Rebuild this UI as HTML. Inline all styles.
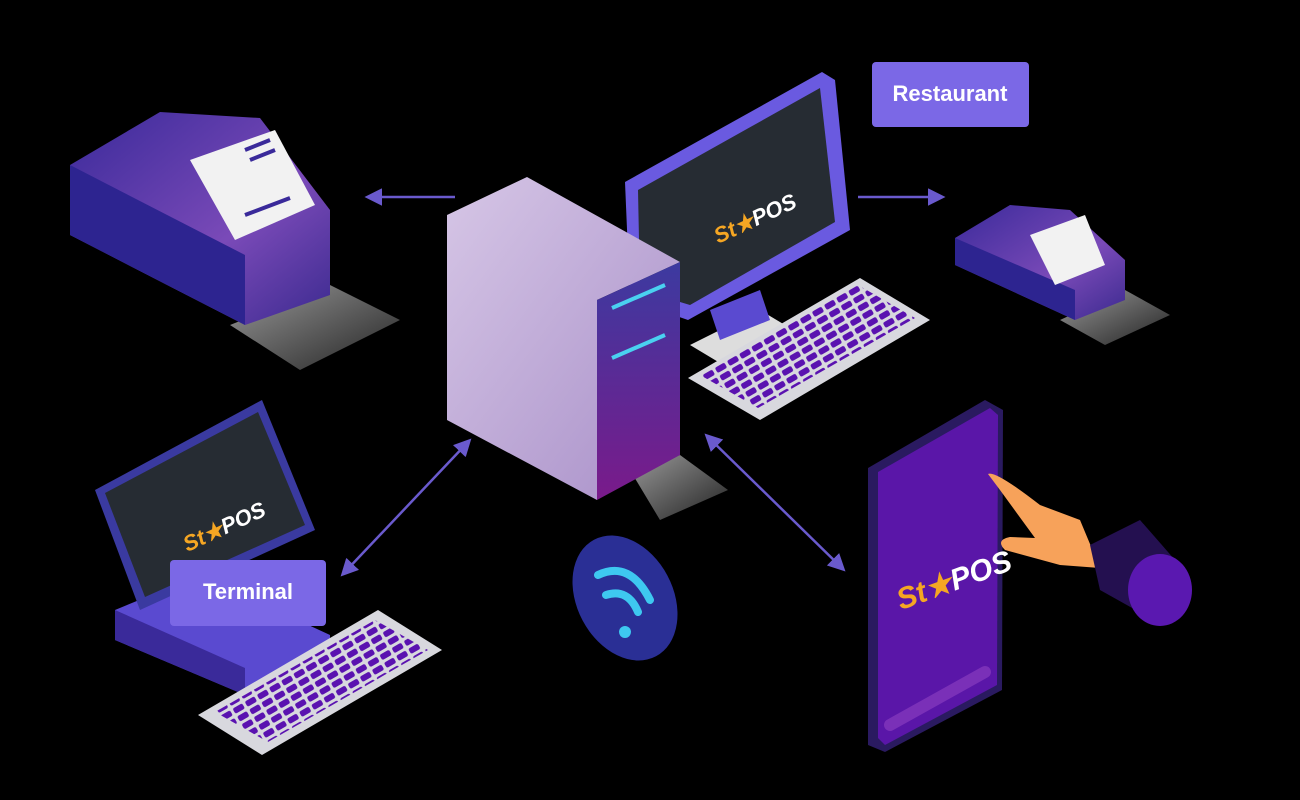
<!DOCTYPE html>
<html><head><meta charset="utf-8"><style>
html,body{margin:0;padding:0;background:#000;width:1300px;height:800px;overflow:hidden}
svg{display:block}
.lbl{font-family:"Liberation Sans",sans-serif;font-weight:bold;fill:#fff}
</style></head><body>
<svg width="1300" height="800" viewBox="0 0 1300 800" xmlns="http://www.w3.org/2000/svg">
<defs>
<linearGradient id="pr" x1="0" y1="0" x2="1" y2="1"><stop offset="0" stop-color="#3a2a9a"/><stop offset="0.6" stop-color="#7a4ab8"/><stop offset="1" stop-color="#3b2a8f"/></linearGradient>
<linearGradient id="sh" x1="0" y1="0" x2="1" y2="1"><stop offset="0" stop-color="#999"/><stop offset="1" stop-color="#222"/></linearGradient>
<linearGradient id="tw" x1="0" y1="0" x2="1" y2="1"><stop offset="0" stop-color="#d6c6e6"/><stop offset="1" stop-color="#a88fc8"/></linearGradient>
<linearGradient id="fp" x1="0" y1="0" x2="0" y2="1"><stop offset="0" stop-color="#3c3aa0"/><stop offset="1" stop-color="#7a1a8a"/></linearGradient>
<pattern id="keys" width="14" height="9" patternUnits="userSpaceOnUse" patternTransform="rotate(-30)"><rect x="1" y="1" width="11" height="6" rx="2" fill="#5a12b0"/></pattern>
<marker id="ah" viewBox="0 0 10 10" refX="8" refY="5" markerWidth="7" markerHeight="7" orient="auto-start-reverse"><path d="M0,0L10,5L0,10z" fill="#6a5acd"/></marker>
</defs>

<!-- left printer -->
<polygon points="230,325 330,285 400,320 300,370" fill="url(#sh)"/>
<polygon points="70,165 160,112 260,118 330,210 330,295 245,325 70,235" fill="url(#pr)"/>
<polygon points="70,165 245,255 245,325 70,235" fill="#2d2490"/>
<polygon points="190,160 275,130 315,205 235,240" fill="#f2f2f2"/>
<g stroke="#3a2a9a" stroke-width="4"><line x1="245" y1="150" x2="270" y2="140"/><line x1="250" y1="160" x2="275" y2="150"/><line x1="245" y1="215" x2="290" y2="198"/></g>

<!-- arrows -->
<line x1="455" y1="197" x2="368" y2="197" stroke="#6a5acd" stroke-width="2.5" marker-end="url(#ah)"/>
<line x1="858" y1="197" x2="942" y2="197" stroke="#6a5acd" stroke-width="2.5" marker-end="url(#ah)"/>
<line x1="343" y1="574" x2="469" y2="441" stroke="#6a5acd" stroke-width="2.5" marker-start="url(#ah)" marker-end="url(#ah)"/>
<line x1="707" y1="436" x2="843" y2="569" stroke="#6a5acd" stroke-width="2.5" marker-start="url(#ah)" marker-end="url(#ah)"/>

<!-- monitor -->
<polygon points="690,345 760,310 810,340 740,375" fill="#ddd"/>
<polygon points="710,310 760,290 770,320 720,340" fill="#5a4ad0"/>
<polygon points="625,182 822,72 835,80 850,230 688,320 630,300" fill="#6a5ae0"/>
<polygon points="638,190 820,88 835,222 690,305 640,290" fill="#262c33"/>
<text x="708" y="232" font-family="Liberation Sans,sans-serif" font-weight="bold" font-style="italic" font-size="22" fill="#f5a623" transform="rotate(-25 740 215)">St★<tspan fill="#fff">POS</tspan></text>

<!-- right keyboard -->
<polygon points="688,378 860,278 930,320 760,420" fill="#d8d8de"/>
<polygon points="700,375 858,285 915,318 758,408" fill="url(#keys)"/>

<!-- tower -->
<polygon points="630,470 680,455 728,490 660,520" fill="url(#sh)"/>
<polygon points="447,215 527,177 680,262 597,300 597,500 447,420" fill="url(#tw)"/>
<polygon points="597,300 680,262 680,455 597,500" fill="url(#fp)"/>
<line x1="612" y1="308" x2="665" y2="285" stroke="#4ad0f0" stroke-width="4"/>
<line x1="612" y1="358" x2="665" y2="335" stroke="#4ad0f0" stroke-width="4"/>

<!-- restaurant label -->
<rect x="872" y="62" width="157" height="65" rx="4" fill="#7b68e6"/>
<text x="950" y="101" class="lbl" font-size="22" text-anchor="middle">Restaurant</text>

<!-- right printer -->
<polygon points="1060,320 1125,290 1170,315 1105,345" fill="url(#sh)"/>
<polygon points="955,238 1010,205 1070,210 1125,260 1125,300 1075,320 955,265" fill="url(#pr)"/>
<polygon points="955,238 1075,290 1075,320 955,265" fill="#2d2490"/>
<polygon points="1030,235 1085,215 1105,265 1055,285" fill="#f2f2f2"/>

<!-- laptop / terminal -->
<polygon points="115,610 200,575 330,635 330,660 245,695 115,640" fill="#5a4ad0"/>
<polygon points="115,610 245,668 245,695 115,640" fill="#3a2a9a"/>
<polygon points="95,490 262,400 315,530 140,610" fill="#3a3aa0"/>
<polygon points="105,493 258,412 305,525 145,597" fill="#262c33"/>
<text x="178" y="540" font-family="Liberation Sans,sans-serif" font-weight="bold" font-style="italic" font-size="22" fill="#f5a623" transform="rotate(-25 210 525)">St★<tspan fill="#fff">POS</tspan></text>
<rect x="170" y="560" width="156" height="66" rx="4" fill="#7b68e6"/>
<text x="248" y="599" class="lbl" font-size="22" text-anchor="middle">Terminal</text>

<!-- bottom keyboard -->
<polygon points="198,715 378,610 442,650 262,755" fill="#d8d8de"/>
<polygon points="215,712 375,620 428,650 268,742" fill="url(#keys)"/>

<!-- wifi -->
<ellipse cx="625" cy="598" rx="48" ry="66" transform="rotate(-28 625 598)" fill="#2a2f95"/>
<g fill="none" stroke="#3ec8f0" stroke-width="8" stroke-linecap="round">
<path d="M598,575 Q630,560 650,600"/><path d="M606,595 Q628,588 638,612"/>
</g>
<circle cx="625" cy="632" r="6" fill="#3ec8f0"/>

<!-- phone -->
<polygon points="868,468 985,400 1003,410 1002,690 885,752 868,745" fill="#2a1a60"/>
<polygon points="878,472 990,408 998,415 997,685 885,745 878,738" fill="#5a16a8"/>
<line x1="890" y1="725" x2="985" y2="672" stroke="#7a30b8" stroke-width="12" stroke-linecap="round"/>
<text x="893" y="595" font-family="Liberation Sans,sans-serif" font-weight="bold" font-style="italic" font-size="30" fill="#f5a623" transform="rotate(-20 940 580)">St★<tspan fill="#fff">POS</tspan></text>

<!-- hand -->
<path d="M988,474 Q995,470 1040,505 L1080,520 L1100,568 L1060,565 L1005,550 Q995,540 1010,537 L1035,538 L1000,490 Z" fill="#f7a25a"/>
<path d="M1090,545 L1140,520 L1175,560 L1150,618 L1100,590 Z" fill="#241050"/>
<ellipse cx="1160" cy="590" rx="32" ry="36" fill="#5a18b0"/>
</svg>
</body></html>
